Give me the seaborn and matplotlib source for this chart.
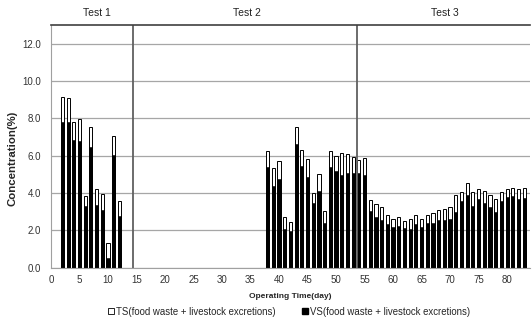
import numpy as np
import matplotlib.pyplot as plt
import matplotlib.patches as mpatches
import matplotlib.ticker as mticker
import seaborn as sns
import pandas as pd

# --values (day, TS %, VS %)
test1_days = list(range(2, 13))
test1_ts = [9.16, 9.11, 7.83, 7.95, 3.84, 7.56, 4.20, 3.93, 1.30, 7.08, 3.58]
test1_vs = [7.79, 7.79, 6.85, 6.81, 3.29, 6.44, 3.36, 3.10, 0.53, 6.05, 2.78]

test2_days = list(range(38, 54))
test2_ts = [6.26, 5.36, 5.73, 2.69, 2.46, 7.56, 6.32, 5.82, 4.02, 5.02, 3.06, 6.26, 6.00, 6.16, 6.10, 5.94]
test2_vs = [5.39, 4.36, 4.75, 2.06, 1.96, 6.62, 5.46, 4.84, 3.45, 4.09, 2.42, 5.39, 5.20, 4.98, 5.05, 5.05]

test3_days = list(range(54, 84))
test3_ts = [5.78, 5.85, 3.62, 3.41, 3.24, 2.81, 2.63, 2.70, 2.48, 2.61, 2.84, 2.61, 2.84, 2.92, 3.10,
            3.16, 3.27, 3.87, 4.03, 4.54, 4.03, 4.20, 4.09, 3.87, 3.67, 4.03, 4.23, 4.27, 4.23, 4.27]
test3_vs = [5.08, 4.95, 3.04, 2.74, 2.55, 2.34, 2.17, 2.26, 2.10, 2.05, 2.34, 2.19, 2.41, 2.37, 2.55,
            2.55, 2.60, 3.00, 3.56, 3.90, 3.29, 3.69, 3.44, 3.27, 3.00, 3.58, 3.78, 3.83, 3.67, 3.73]

test_names = ["Test 1", "Test 2", "Test 3"]
test_label_x = [8.1, 34.4, 69.1]
test_bounds = [14.3, 53.7]

ts_label = "TS(food waste + livestock excretions)"
vs_label = "VS(food waste + livestock excretions)"

df = pd.DataFrame({
    "day": test1_days + test2_days + test3_days,
    "ts": test1_ts + test2_ts + test3_ts,
    "vs": test1_vs + test2_vs + test3_vs,
})

sns.set_style("white")
plt.rcParams['font.family'] = ['Liberation Sans Narrow', 'Liberation Sans', 'DejaVu Sans']

fig = plt.figure(figsize=(5.32, 3.2), dpi=100)
ax = fig.add_axes([0.0959, 0.1634, 0.9001, 0.7586])

###     --bars: TS behind, VS in front
sns.barplot(data=df, x="day", y="ts", native_scale=True, width=0.55, color="white",
            saturation=1, edgecolor="black", linewidth=0.7, errorbar=None, ax=ax)
sns.barplot(data=df, x="day", y="vs", native_scale=True, width=0.55, color="black",
            saturation=1, edgecolor="black", linewidth=0.4, errorbar=None, ax=ax)

ax.set_xlim(0, 84)
ax.set_ylim(0, 13)
ax.yaxis.set_major_locator(mticker.FixedLocator([0, 2, 4, 6, 8, 10, 12]))
ax.yaxis.set_major_formatter(mticker.FormatStrFormatter("%.1f"))
ax.xaxis.set_major_locator(mticker.MultipleLocator(5))
ax.xaxis.set_minor_locator(mticker.MultipleLocator(1))
ax.grid(axis="y", color="#a6a6a6", linewidth=0.9)
ax.set_axisbelow(True)

ax.tick_params(axis="y", length=0, pad=7, labelsize=7, colors="#333333")
ax.tick_params(axis="x", which="both", length=3, width=0.6, color="#888888",
               direction="out", pad=2, labelsize=7, labelcolor="#333333")

ax.spines["right"].set_visible(False)
ax.spines["top"].set_color("#404040")
ax.spines["top"].set_linewidth(1.2)
ax.spines["left"].set_color("#a0a0a0")
ax.spines["bottom"].set_color("#a0a0a0")

for b in test_bounds:
    ax.axvline(b, color="#606060", linewidth=1.3)

for name, xp in zip(test_names, test_label_x):
    ax.text(xp, 1.05, name, transform=ax.get_xaxis_transform(),
            ha="center", va="center", fontsize=7.5, color="#222222")

ax.set_xlabel("Operating Time(day)", fontsize=6, fontweight="bold",
              family=["Liberation Sans", "DejaVu Sans"], labelpad=6)
ax.set_ylabel("Concentration(%)", fontsize=8.2, fontweight="bold",
              family=["Liberation Sans", "DejaVu Sans"])
ax.yaxis.set_label_coords(-0.069, 0.452)

handles = [mpatches.Patch(facecolor="white", edgecolor="black", linewidth=0.6, label=ts_label),
           mpatches.Patch(facecolor="black", edgecolor="black", label=vs_label)]
fig.legend(handles=handles, loc="center", bbox_to_anchor=(0.543, 0.026), ncol=2,
           frameon=False, fontsize=6.9, handlelength=0.6, handleheight=0.6,
           handletextpad=0.2, columnspacing=2.8, borderpad=0)

fig.savefig("out.png", dpi=100)
